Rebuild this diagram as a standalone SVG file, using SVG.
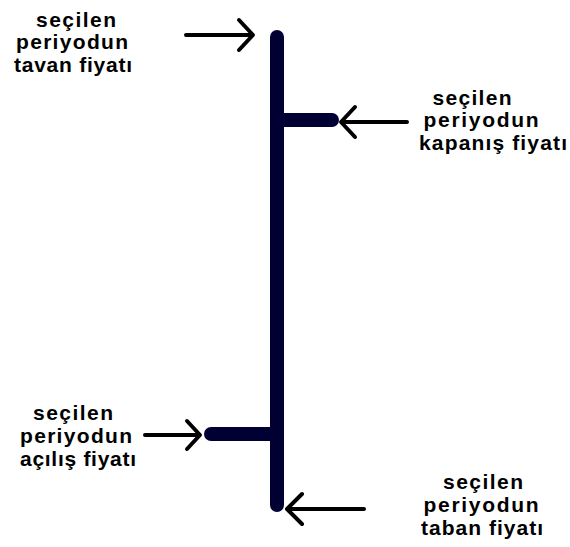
<svg xmlns="http://www.w3.org/2000/svg" width="570" height="547" viewBox="0 0 570 547">
<style>
.t{font-family:"Liberation Sans",Arial,sans-serif;font-weight:bold;font-size:21px;fill:#000;text-anchor:middle}
.bar{fill:none;stroke:#000033;stroke-width:14;stroke-linecap:round}
.ar{fill:none;stroke:#000;stroke-width:4;stroke-linecap:round;stroke-linejoin:round}
</style>
<rect width="570" height="547" fill="#fff"/>
<g id="candle">
<line class="bar" x1="277" y1="37" x2="277" y2="505"/>
<line class="bar" x1="277" y1="120" x2="332" y2="120"/>
<line class="bar" x1="211" y1="434" x2="277" y2="434"/>
</g>
<g id="connectors">
<path class="ar" d="M186 35H252M239 20L253 35L239 50"/>
<path class="ar" d="M407 122H343M355 107L341 122L355 137"/>
<path class="ar" d="M145 435H199M187 421L200 435L187 449"/>
<path class="ar" d="M364 509H288M302 494L287 509L302 524"/>
</g>
<g id="tavan">
<text class="t" x="76" y="27" textLength="80">seçilen</text>
<text class="t" x="72" y="49" textLength="112">periyodun</text>
<text class="t" x="73" y="72" textLength="118">tavan fiyatı</text>
</g>
<g id="kapanis">
<text class="t" x="472" y="105" textLength="79">seçilen</text>
<text class="t" x="481" y="127" textLength="115">periyodun</text>
<text class="t" x="493" y="150" textLength="148">kapanış fiyatı</text>
</g>
<g id="acilis">
<text class="t" x="73" y="420" textLength="80">seçilen</text>
<text class="t" x="76" y="443" textLength="112">periyodun</text>
<text class="t" x="78" y="466" textLength="116">açılış fiyatı</text>
</g>
<g id="taban">
<text class="t" x="483" y="489" textLength="80">seçilen</text>
<text class="t" x="481" y="512" textLength="115">periyodun</text>
<text class="t" x="482" y="535" textLength="122">taban fiyatı</text>
</g>
</svg>
